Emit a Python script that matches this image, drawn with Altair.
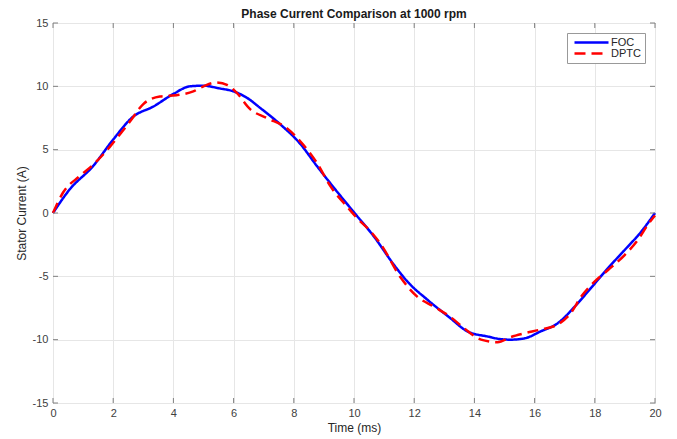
import altair as alt
import pandas as pd

# Data
foc_t = [0, 0.55, 1.33, 2.0, 2.66, 3.33, 4.0, 4.55, 5.0, 5.5, 6.0, 6.44, 6.88, 7.55, 8.2, 8.77,
         9.33, 10.0, 10.66, 11.33, 11.77, 12.44, 13.2, 13.77, 14.44, 14.88, 15.2, 15.66, 16.2,
         16.77, 17.33, 17.88, 18.44, 19.0, 19.55, 20.0]
foc_i = [0, 1.85, 3.7, 5.8, 7.6, 8.4, 9.4, 10.0, 10.05, 9.85, 9.6, 9.1, 8.3, 7.0, 5.5, 3.7,
         2.0, 0.05, -1.85, -4.1, -5.4, -6.85, -8.3, -9.35, -9.75, -9.96, -10.0, -9.9, -9.35,
         -8.7, -7.4, -5.9, -4.35, -2.9, -1.45, 0]

dptc_t = [0, 0.33, 0.88, 1.33, 1.88, 2.22, 2.55, 3.0, 3.55, 4.1, 4.66, 5.0, 5.4, 5.8, 6.1, 6.55,
          7.1, 7.77, 8.2, 8.77, 9.22, 9.77, 10.1, 10.55, 10.9, 11.55, 12.1, 12.66, 13.2, 13.66,
          14.22, 14.77, 15.2, 15.66, 16.2, 16.77, 17.2, 17.55, 18.0, 18.44, 19.0, 19.44, 19.77, 20.0]
dptc_i = [0, 1.6, 2.9, 3.8, 5.2, 6.2, 7.2, 8.6, 9.2, 9.3, 9.6, 10.0, 10.3, 10.1, 9.5, 8.2,
          7.5, 6.7, 5.7, 3.95, 2.1, 0.5, -0.4, -1.45, -2.5, -5.1, -6.6, -7.4, -8.2, -9.1,
          -10.0, -10.2, -9.8, -9.5, -9.2, -8.8, -7.9, -6.6, -5.4, -4.5, -3.3, -2.1, -0.9, -0.2]

series_names = ["FOC", "DPTC"]
series_colors = ["#0000ff", "#ff0000"]
x_ticks = [0, 2, 4, 6, 8, 10, 12, 14, 16, 18, 20]
y_ticks = [-15, -10, -5, 0, 5, 10, 15]

W, H = 602, 380
FONT = "Liberation Sans"
AX = "#808080"

df = pd.concat([
    pd.DataFrame({"t": foc_t, "I": foc_i, "series": "FOC"}),
    pd.DataFrame({"t": dptc_t, "I": dptc_i, "series": "DPTC"}),
])
xt = pd.DataFrame({"t": x_ticks})
yt = pd.DataFrame({"I": y_ticks})

xscale = alt.Scale(domain=[0, 20], nice=False, zero=False)
yscale = alt.Scale(domain=[-15, 15], nice=False, zero=False)
xaxis = alt.Axis(values=x_ticks, title="Time (ms)", grid=True, ticks=False,
                 domain=False, labelPadding=4, titlePadding=4, labelFlush=False)
yaxis = alt.Axis(values=y_ticks, title="Stator Current (A)", grid=True, ticks=False,
                 domain=False, labelPadding=5, titlePadding=4, labelFlush=False,
                 labelExpr="replace(datum.label, '\u2212', '-')")

leg = alt.Legend(title=None, orient="top-right", offset=10, symbolType="M-1,0H16",
                 symbolSize=16, symbolStrokeWidth=2.5, labelFontSize=11,
                 labelFont=FONT, labelColor="#262626", strokeColor="#999999",
                 fillColor="white", padding=4, rowPadding=-2, labelOffset=29)

lines = alt.Chart(df).mark_line(strokeWidth=2.5, interpolate="monotone").encode(
    x=alt.X("t:Q", scale=xscale, axis=xaxis),
    y=alt.Y("I:Q", scale=yscale, axis=yaxis),
    color=alt.Color("series:N", scale=alt.Scale(domain=series_names, range=series_colors),
                    legend=leg),
    strokeDash=alt.StrokeDash("series:N",
                              scale=alt.Scale(domain=series_names, range=[[1, 0], [11, 6]]),
                              legend=leg),
)

xt_bot = alt.Chart(xt).mark_rule(color=AX).encode(
    x=alt.X("t:Q", scale=xscale, axis=xaxis), y=alt.value(H), y2=alt.value(H - 5))
xt_top = alt.Chart(xt).mark_rule(color=AX).encode(
    x=alt.X("t:Q", scale=xscale, axis=xaxis), y=alt.value(0), y2=alt.value(5))
yt_left = alt.Chart(yt).mark_rule(color=AX).encode(
    y=alt.Y("I:Q", scale=yscale, axis=yaxis), x=alt.value(0), x2=alt.value(5))
yt_right = alt.Chart(yt).mark_rule(color=AX).encode(
    y=alt.Y("I:Q", scale=yscale, axis=yaxis), x=alt.value(W), x2=alt.value(W - 5))

chart = alt.layer(lines, xt_bot, xt_top, yt_left, yt_right).properties(
    width=W, height=H,
    title=alt.TitleParams("Phase Current Comparison at 1000 rpm", font=FONT, fontSize=12,
                          fontWeight="bold", color="#1a1a1a", offset=-4, frame="group"),
    autosize=alt.AutoSizeParams(type="none"),
    padding={"left": 45, "top": 15, "right": 14, "bottom": 33},
).configure_view(
    stroke=AX, strokeWidth=1
).configure_axis(
    labelFont=FONT, titleFont=FONT, labelFontSize=11, titleFontSize=12,
    labelColor="#404040", titleColor="#262626", titleFontWeight="normal",
    gridColor="#e6e6e6", gridWidth=1,
)

chart.save("out.html", embed_options={"renderer": "svg", "actions": False})
